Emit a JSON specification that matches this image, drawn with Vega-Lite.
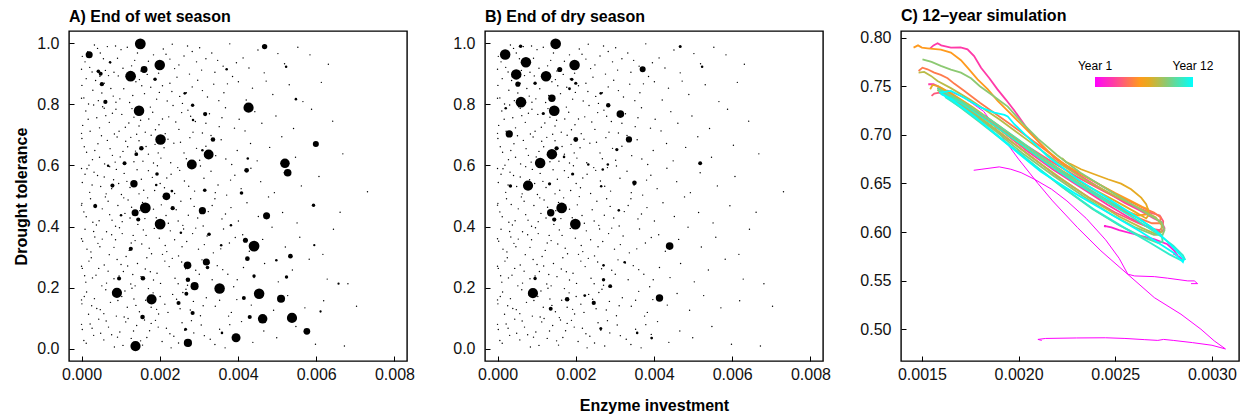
{
  "$schema": "https://vega.github.io/schema/vega-lite/v6.json",
  "background": "white",
  "padding": {"left": 13, "top": 6, "right": 6, "bottom": 4},
  "bounds": "flush",
  "spacing": 78,
  "config": {
    "font": "Liberation Sans",
    "view": {"stroke": "black", "strokeWidth": 1.4},
    "axis": {
      "domain": false, "grid": false, "offset": -5, "tickSize": 5, "tickColor": "black", "tickWidth": 1,
      "labelFont": "Liberation Sans", "labelFontSize": 16, "labelColor": "#111", "labelPadding": 10, "labelFlush": false,
      "titleFont": "Liberation Sans", "titleFontSize": 16, "titleFontWeight": "bold", "titleColor": "black", "titlePadding": 7
    },
    "axisX": {"labelPadding": 5, "titlePadding": 15},
    "title": {"font": "Liberation Sans", "fontSize": 16, "fontWeight": "bold", "anchor": "start", "frame": "group", "color": "black", "offset": 6, "baseline": "alphabetic"}
  },
  "datasets": {
    "background": [
      {"enzyme":0.00002,"drought":0.957},{"enzyme":0.00021,"drought":0.921},{"enzyme":0.00033,"drought":0.994},{"enzyme":0.00048,"drought":0.968},{"enzyme":0.00074,"drought":0.936},{"enzyme":0.00083,"drought":0.905},{"enzyme":0.00101,"drought":0.979},{"enzyme":0.00117,"drought":0.987},{"enzyme":0.00136,"drought":0.944},{"enzyme":0.00152,"drought":0.909},{"enzyme":0.00158,"drought":0.995},{"enzyme":0.00184,"drought":0.962},{"enzyme":0.00193,"drought":0.931},{"enzyme":0.00209,"drought":0.981},{"enzyme":0.00226,"drought":0.948},{"enzyme":0.00238,"drought":0.917},{"enzyme":0.00262,"drought":0.958},{"enzyme":0.00271,"drought":0.991},{"enzyme":0.00294,"drought":0.939},{"enzyme":0.00307,"drought":0.912},{"enzyme":0.00333,"drought":0.968},{"enzyme":0.00348,"drought":0.944},{"enzyme":0.00362,"drought":0.925},{"enzyme":0.00379,"drought":0.998},{"enzyme":0.00413,"drought":0.952},{"enzyme":0.00428,"drought":0.919},{"enzyme":0.00451,"drought":0.978},{"enzyme":0.00467,"drought":0.903},{"enzyme":0.00502,"drought":0.966},{"enzyme":0.00519,"drought":0.933},{"enzyme":0.00553,"drought":0.987},{"enzyme":0.00584,"drought":0.962},{"enzyme":0.00631,"drought":0.931},{"enzyme":0.00092,"drought":0.951},{"enzyme":0.00041,"drought":0.983},{"enzyme":0.00143,"drought":0.968},{"enzyme":0.00197,"drought":0.902},{"enzyme":0.00302,"drought":0.985},{"enzyme":0.00061,"drought":0.911},{"enzyme":0.00009,"drought":0.939},
      {"enzyme":0.00016,"drought":0.972},{"enzyme":0.00056,"drought":0.949},{"enzyme":0.00087,"drought":0.991},{"enzyme":0.00128,"drought":0.926},{"enzyme":0.00171,"drought":0.941},{"enzyme":0.00216,"drought":0.964},{"enzyme":0.00249,"drought":0.929},{"enzyme":0.00283,"drought":0.973},{"enzyme":0.00318,"drought":0.949},{"enzyme":0.00341,"drought":0.905},{"enzyme":0.00396,"drought":0.936},{"enzyme":0.00027,"drought":0.906},{"enzyme":0.00106,"drought":0.918},{"enzyme":0.00232,"drought":0.997},{"enzyme":0.00066,"drought":0.989},
      {"enzyme":0.00012,"drought":0.884},{"enzyme":0.00029,"drought":0.846},{"enzyme":0.00043,"drought":0.812},{"enzyme":0.00058,"drought":0.869},{"enzyme":0.00081,"drought":0.827},{"enzyme":0.00094,"drought":0.893},{"enzyme":0.00108,"drought":0.851},{"enzyme":0.00123,"drought":0.806},{"enzyme":0.00139,"drought":0.874},{"enzyme":0.00161,"drought":0.835},{"enzyme":0.00168,"drought":0.898},{"enzyme":0.00192,"drought":0.817},{"enzyme":0.00207,"drought":0.861},{"enzyme":0.00231,"drought":0.842},{"enzyme":0.00244,"drought":0.889},{"enzyme":0.00258,"drought":0.803},{"enzyme":0.00283,"drought":0.857},{"enzyme":0.00297,"drought":0.879},{"enzyme":0.00322,"drought":0.824},{"enzyme":0.00338,"drought":0.866},{"enzyme":0.00364,"drought":0.838},{"enzyme":0.00386,"drought":0.891},{"enzyme":0.00421,"drought":0.814},{"enzyme":0.00437,"drought":0.853},{"enzyme":0.00472,"drought":0.876},{"enzyme":0.00489,"drought":0.832},{"enzyme":0.00531,"drought":0.864},{"enzyme":0.00566,"drought":0.809},{"enzyme":0.00613,"drought":0.872},{"enzyme":0.00001,"drought":0.862},{"enzyme":0.00018,"drought":0.801},{"enzyme":0.00069,"drought":0.894},{"enzyme":0.00131,"drought":0.829},{"enzyme":0.00177,"drought":0.856},{"enzyme":0.00219,"drought":0.811},{"enzyme":0.00268,"drought":0.838},{"enzyme":0.00373,"drought":0.867},{"enzyme":0.00052,"drought":0.837},{"enzyme":0.00098,"drought":0.818},{"enzyme":0.00148,"drought":0.881},
      {"enzyme":0.00006,"drought":0.821},{"enzyme":0.00036,"drought":0.878},{"enzyme":0.00075,"drought":0.852},{"enzyme":0.00115,"drought":0.897},{"enzyme":0.00154,"drought":0.861},{"enzyme":0.00186,"drought":0.883},{"enzyme":0.00226,"drought":0.869},{"enzyme":0.00251,"drought":0.826},{"enzyme":0.00276,"drought":0.899},{"enzyme":0.00309,"drought":0.845},{"enzyme":0.00351,"drought":0.812},{"enzyme":0.00401,"drought":0.874},{"enzyme":0.00088,"drought":0.807},{"enzyme":0.00199,"drought":0.839},{"enzyme":0.00047,"drought":0.892},
      {"enzyme":0.00003,"drought":0.731},{"enzyme":0.00011,"drought":0.778},{"enzyme":0.00022,"drought":0.712},{"enzyme":0.00039,"drought":0.756},{"enzyme":0.00054,"drought":0.792},{"enzyme":0.00071,"drought":0.741},{"enzyme":0.00084,"drought":0.703},{"enzyme":0.00103,"drought":0.767},{"enzyme":0.00112,"drought":0.725},{"enzyme":0.00129,"drought":0.786},{"enzyme":0.00151,"drought":0.748},{"enzyme":0.00163,"drought":0.709},{"enzyme":0.00182,"drought":0.774},{"enzyme":0.00198,"drought":0.733},{"enzyme":0.00223,"drought":0.759},{"enzyme":0.00234,"drought":0.796},{"enzyme":0.00249,"drought":0.718},{"enzyme":0.00272,"drought":0.781},{"enzyme":0.00291,"drought":0.744},{"enzyme":0.00309,"drought":0.706},{"enzyme":0.00327,"drought":0.769},{"enzyme":0.00352,"drought":0.727},{"enzyme":0.00368,"drought":0.789},{"enzyme":0.00403,"drought":0.751},{"enzyme":0.00418,"drought":0.713},{"enzyme":0.00443,"drought":0.776},{"enzyme":0.00461,"drought":0.738},{"enzyme":0.00497,"drought":0.762},{"enzyme":0.00542,"drought":0.721},{"enzyme":0.00588,"drought":0.784},{"enzyme":0.00642,"drought":0.745},{"enzyme":0.00031,"drought":0.798},{"enzyme":0.00062,"drought":0.763},{"enzyme":0.00088,"drought":0.784},{"enzyme":0.00121,"drought":0.739},{"enzyme":0.00141,"drought":0.702},{"enzyme":0.00172,"drought":0.752},{"enzyme":0.00189,"drought":0.717},{"enzyme":0.00241,"drought":0.742},{"enzyme":0.00279,"drought":0.761},
      {"enzyme":0.00017,"drought":0.751},{"enzyme":0.00046,"drought":0.723},{"enzyme":0.00079,"drought":0.771},{"enzyme":0.00096,"drought":0.712},{"enzyme":0.00134,"drought":0.758},{"enzyme":0.00176,"drought":0.791},{"enzyme":0.00207,"drought":0.752},{"enzyme":0.00256,"drought":0.773},{"enzyme":0.00285,"drought":0.709},{"enzyme":0.00318,"drought":0.738},{"enzyme":0.00359,"drought":0.756},{"enzyme":0.00391,"drought":0.722},{"enzyme":0.00058,"drought":0.787},{"enzyme":0.00147,"drought":0.729},{"enzyme":0.00214,"drought":0.704},
      {"enzyme":0.00001,"drought":0.688},{"enzyme":0.00013,"drought":0.643},{"enzyme":0.00028,"drought":0.619},{"enzyme":0.00042,"drought":0.671},{"enzyme":0.00059,"drought":0.605},{"enzyme":0.00073,"drought":0.655},{"enzyme":0.00091,"drought":0.693},{"enzyme":0.00099,"drought":0.628},{"enzyme":0.00118,"drought":0.661},{"enzyme":0.00134,"drought":0.612},{"enzyme":0.00147,"drought":0.681},{"enzyme":0.00171,"drought":0.637},{"enzyme":0.00178,"drought":0.699},{"enzyme":0.00203,"drought":0.624},{"enzyme":0.00211,"drought":0.658},{"enzyme":0.00228,"drought":0.609},{"enzyme":0.00253,"drought":0.676},{"enzyme":0.00262,"drought":0.641},{"enzyme":0.00277,"drought":0.691},{"enzyme":0.00302,"drought":0.617},{"enzyme":0.00318,"drought":0.663},{"enzyme":0.00343,"drought":0.632},{"enzyme":0.00357,"drought":0.684},{"enzyme":0.00384,"drought":0.603},{"enzyme":0.00398,"drought":0.649},{"enzyme":0.00432,"drought":0.672},{"enzyme":0.00449,"drought":0.615},{"enzyme":0.00481,"drought":0.659},{"enzyme":0.00512,"drought":0.694},{"enzyme":0.00547,"drought":0.627},{"enzyme":0.00603,"drought":0.666},{"enzyme":0.00668,"drought":0.638},{"enzyme":0.00019,"drought":0.601},{"enzyme":0.00051,"drought":0.697},{"enzyme":0.00079,"drought":0.633},{"enzyme":0.00113,"drought":0.679},{"enzyme":0.00138,"drought":0.647},{"enzyme":0.00157,"drought":0.614},{"enzyme":0.00188,"drought":0.669},{"enzyme":0.00221,"drought":0.686},
      {"enzyme":0.00007,"drought":0.661},{"enzyme":0.00034,"drought":0.649},{"enzyme":0.00066,"drought":0.682},{"enzyme":0.00086,"drought":0.611},{"enzyme":0.00126,"drought":0.692},{"enzyme":0.00165,"drought":0.662},{"enzyme":0.00196,"drought":0.641},{"enzyme":0.00236,"drought":0.673},{"enzyme":0.00268,"drought":0.622},{"enzyme":0.00294,"drought":0.656},{"enzyme":0.00331,"drought":0.698},{"enzyme":0.00369,"drought":0.621},{"enzyme":0.00046,"drought":0.627},{"enzyme":0.00106,"drought":0.646},{"enzyme":0.00184,"drought":0.608},
      {"enzyme":0.00002,"drought":0.544},{"enzyme":0.00014,"drought":0.589},{"enzyme":0.00021,"drought":0.512},{"enzyme":0.00041,"drought":0.567},{"enzyme":0.00049,"drought":0.531},{"enzyme":0.00072,"drought":0.596},{"enzyme":0.00082,"drought":0.553},{"enzyme":0.00102,"drought":0.505},{"enzyme":0.00109,"drought":0.574},{"enzyme":0.00133,"drought":0.538},{"enzyme":0.00142,"drought":0.586},{"enzyme":0.00159,"drought":0.519},{"enzyme":0.00181,"drought":0.561},{"enzyme":0.00194,"drought":0.599},{"enzyme":0.00212,"drought":0.527},{"enzyme":0.00229,"drought":0.571},{"enzyme":0.00238,"drought":0.508},{"enzyme":0.00263,"drought":0.549},{"enzyme":0.00281,"drought":0.593},{"enzyme":0.00289,"drought":0.516},{"enzyme":0.00313,"drought":0.558},{"enzyme":0.00331,"drought":0.581},{"enzyme":0.00349,"drought":0.536},{"enzyme":0.00371,"drought":0.503},{"enzyme":0.00392,"drought":0.568},{"enzyme":0.00408,"drought":0.524},{"enzyme":0.00433,"drought":0.591},{"enzyme":0.00458,"drought":0.547},{"enzyme":0.00493,"drought":0.511},{"enzyme":0.00518,"drought":0.576},{"enzyme":0.00562,"drought":0.533},{"enzyme":0.00607,"drought":0.564},{"enzyme":0.00731,"drought":0.514},{"enzyme":0.00032,"drought":0.578},{"enzyme":0.00063,"drought":0.507},{"enzyme":0.00089,"drought":0.587},{"enzyme":0.00124,"drought":0.528},{"enzyme":0.00153,"drought":0.555},{"enzyme":0.00201,"drought":0.541},{"enzyme":0.00251,"drought":0.584},
      {"enzyme":0.00009,"drought":0.571},{"enzyme":0.00027,"drought":0.536},{"enzyme":0.00058,"drought":0.562},{"enzyme":0.00077,"drought":0.524},{"enzyme":0.00116,"drought":0.548},{"enzyme":0.00147,"drought":0.507},{"enzyme":0.00171,"drought":0.583},{"enzyme":0.00218,"drought":0.559},{"enzyme":0.00246,"drought":0.593},{"enzyme":0.00274,"drought":0.532},{"enzyme":0.00304,"drought":0.598},{"enzyme":0.00342,"drought":0.511},{"enzyme":0.00381,"drought":0.552},{"enzyme":0.00095,"drought":0.541},{"enzyme":0.00187,"drought":0.518},
      {"enzyme":0.00001,"drought":0.476},{"enzyme":0.00012,"drought":0.432},{"enzyme":0.00023,"drought":0.491},{"enzyme":0.00029,"drought":0.414},{"enzyme":0.00053,"drought":0.458},{"enzyme":0.00061,"drought":0.497},{"enzyme":0.00078,"drought":0.421},{"enzyme":0.00093,"drought":0.469},{"enzyme":0.00111,"drought":0.443},{"enzyme":0.00119,"drought":0.487},{"enzyme":0.00144,"drought":0.407},{"enzyme":0.00149,"drought":0.452},{"enzyme":0.00169,"drought":0.494},{"enzyme":0.00191,"drought":0.429},{"enzyme":0.00204,"drought":0.471},{"enzyme":0.00222,"drought":0.411},{"enzyme":0.00242,"drought":0.455},{"enzyme":0.00254,"drought":0.483},{"enzyme":0.00273,"drought":0.437},{"enzyme":0.00288,"drought":0.466},{"enzyme":0.00311,"drought":0.402},{"enzyme":0.00324,"drought":0.449},{"enzyme":0.00341,"drought":0.491},{"enzyme":0.00359,"drought":0.425},{"enzyme":0.00382,"drought":0.462},{"enzyme":0.00401,"drought":0.418},{"enzyme":0.00423,"drought":0.478},{"enzyme":0.00452,"drought":0.433},{"enzyme":0.00478,"drought":0.497},{"enzyme":0.00514,"drought":0.446},{"enzyme":0.00551,"drought":0.412},{"enzyme":0.00594,"drought":0.468},{"enzyme":0.00661,"drought":0.447},{"enzyme":0.00038,"drought":0.405},{"enzyme":0.00068,"drought":0.483},{"enzyme":0.00104,"drought":0.416},{"enzyme":0.00128,"drought":0.463},{"enzyme":0.00162,"drought":0.426},{"enzyme":0.00209,"drought":0.498},{"enzyme":0.00259,"drought":0.404},
      {"enzyme":0.00006,"drought":0.448},{"enzyme":0.00035,"drought":0.472},{"enzyme":0.00072,"drought":0.439},{"enzyme":0.00087,"drought":0.401},{"enzyme":0.00124,"drought":0.428},{"enzyme":0.00156,"drought":0.479},{"enzyme":0.00184,"drought":0.457},{"enzyme":0.00216,"drought":0.436},{"enzyme":0.00247,"drought":0.418},{"enzyme":0.00279,"drought":0.491},{"enzyme":0.00297,"drought":0.428},{"enzyme":0.00334,"drought":0.469},{"enzyme":0.00368,"drought":0.441},{"enzyme":0.00045,"drought":0.419},{"enzyme":0.00108,"drought":0.494},
      {"enzyme":0.00003,"drought":0.352},{"enzyme":0.00009,"drought":0.391},{"enzyme":0.00024,"drought":0.317},{"enzyme":0.00034,"drought":0.366},{"enzyme":0.00047,"drought":0.334},{"enzyme":0.00064,"drought":0.383},{"enzyme":0.00071,"drought":0.308},{"enzyme":0.00087,"drought":0.357},{"enzyme":0.00097,"drought":0.396},{"enzyme":0.00122,"drought":0.322},{"enzyme":0.00132,"drought":0.371},{"enzyme":0.00154,"drought":0.343},{"enzyme":0.00158,"drought":0.389},{"enzyme":0.00179,"drought":0.311},{"enzyme":0.00199,"drought":0.362},{"enzyme":0.00214,"drought":0.338},{"enzyme":0.00227,"drought":0.386},{"enzyme":0.00248,"drought":0.304},{"enzyme":0.00269,"drought":0.351},{"enzyme":0.00284,"drought":0.377},{"enzyme":0.00299,"drought":0.326},{"enzyme":0.00321,"drought":0.369},{"enzyme":0.00337,"drought":0.314},{"enzyme":0.00363,"drought":0.392},{"enzyme":0.00378,"drought":0.346},{"enzyme":0.00412,"drought":0.373},{"enzyme":0.00429,"drought":0.319},{"enzyme":0.00463,"drought":0.358},{"enzyme":0.00487,"drought":0.398},{"enzyme":0.00521,"drought":0.333},{"enzyme":0.00558,"drought":0.365},{"enzyme":0.00617,"drought":0.309},{"enzyme":0.00644,"drought":0.391},{"enzyme":0.00042,"drought":0.345},{"enzyme":0.00077,"drought":0.373},{"enzyme":0.00114,"drought":0.302},{"enzyme":0.00137,"drought":0.354},{"enzyme":0.00173,"drought":0.329},{"enzyme":0.00218,"drought":0.318},{"enzyme":0.00261,"drought":0.392},
      {"enzyme":0.00014,"drought":0.326},{"enzyme":0.00053,"drought":0.359},{"enzyme":0.00083,"drought":0.332},{"enzyme":0.00104,"drought":0.377},{"enzyme":0.00127,"drought":0.346},{"enzyme":0.00165,"drought":0.371},{"enzyme":0.00186,"drought":0.394},{"enzyme":0.00207,"drought":0.309},{"enzyme":0.00238,"drought":0.357},{"enzyme":0.00257,"drought":0.334},{"enzyme":0.00292,"drought":0.395},{"enzyme":0.00314,"drought":0.341},{"enzyme":0.00356,"drought":0.327},{"enzyme":0.00393,"drought":0.364},{"enzyme":0.00031,"drought":0.384},
      {"enzyme":0.00002,"drought":0.263},{"enzyme":0.00011,"drought":0.218},{"enzyme":0.00019,"drought":0.287},{"enzyme":0.00037,"drought":0.241},{"enzyme":0.00052,"drought":0.206},{"enzyme":0.00058,"drought":0.274},{"enzyme":0.00083,"drought":0.229},{"enzyme":0.00091,"drought":0.292},{"enzyme":0.00107,"drought":0.253},{"enzyme":0.00126,"drought":0.212},{"enzyme":0.00143,"drought":0.279},{"enzyme":0.00152,"drought":0.236},{"enzyme":0.00167,"drought":0.298},{"enzyme":0.00193,"drought":0.247},{"enzyme":0.00202,"drought":0.214},{"enzyme":0.00224,"drought":0.269},{"enzyme":0.00239,"drought":0.231},{"enzyme":0.00256,"drought":0.284},{"enzyme":0.00271,"drought":0.208},{"enzyme":0.00292,"drought":0.257},{"enzyme":0.00308,"drought":0.291},{"enzyme":0.00334,"drought":0.226},{"enzyme":0.00347,"drought":0.272},{"enzyme":0.00374,"drought":0.244},{"enzyme":0.00389,"drought":0.203},{"enzyme":0.00414,"drought":0.266},{"enzyme":0.00441,"drought":0.233},{"enzyme":0.00468,"drought":0.279},{"enzyme":0.00503,"drought":0.219},{"enzyme":0.00539,"drought":0.258},{"enzyme":0.00582,"drought":0.293},{"enzyme":0.00628,"drought":0.228},{"enzyme":0.00681,"drought":0.213},{"enzyme":0.00028,"drought":0.232},{"enzyme":0.00068,"drought":0.254},{"enzyme":0.00101,"drought":0.276},{"enzyme":0.00131,"drought":0.243},{"enzyme":0.00163,"drought":0.261},{"enzyme":0.00184,"drought":0.225},{"enzyme":0.00232,"drought":0.296},
      {"enzyme":0.00008,"drought":0.239},{"enzyme":0.00044,"drought":0.263},{"enzyme":0.00064,"drought":0.215},{"enzyme":0.00096,"drought":0.238},{"enzyme":0.00118,"drought":0.271},{"enzyme":0.00137,"drought":0.206},{"enzyme":0.00176,"drought":0.252},{"enzyme":0.00213,"drought":0.287},{"enzyme":0.00247,"drought":0.213},{"enzyme":0.00266,"drought":0.262},{"enzyme":0.00301,"drought":0.244},{"enzyme":0.00327,"drought":0.281},{"enzyme":0.00361,"drought":0.259},{"enzyme":0.00398,"drought":0.226},{"enzyme":0.00025,"drought":0.298},
      {"enzyme":0.00001,"drought":0.147},{"enzyme":0.00013,"drought":0.186},{"enzyme":0.00018,"drought":0.113},{"enzyme":0.00033,"drought":0.164},{"enzyme":0.00048,"drought":0.128},{"enzyme":0.00062,"drought":0.193},{"enzyme":0.00074,"drought":0.152},{"enzyme":0.00089,"drought":0.107},{"enzyme":0.00103,"drought":0.171},{"enzyme":0.00117,"drought":0.136},{"enzyme":0.00129,"drought":0.198},{"enzyme":0.00148,"drought":0.121},{"enzyme":0.00164,"drought":0.159},{"enzyme":0.00183,"drought":0.183},{"enzyme":0.00197,"drought":0.114},{"enzyme":0.00213,"drought":0.146},{"enzyme":0.00233,"drought":0.178},{"enzyme":0.00252,"drought":0.131},{"enzyme":0.00267,"drought":0.195},{"enzyme":0.00286,"drought":0.155},{"enzyme":0.00304,"drought":0.108},{"enzyme":0.00319,"drought":0.167},{"enzyme":0.00342,"drought":0.139},{"enzyme":0.00361,"drought":0.188},{"enzyme":0.00383,"drought":0.119},{"enzyme":0.00397,"drought":0.161},{"enzyme":0.00434,"drought":0.143},{"enzyme":0.00459,"drought":0.181},{"enzyme":0.00491,"drought":0.126},{"enzyme":0.00527,"drought":0.174},{"enzyme":0.00571,"drought":0.134},{"enzyme":0.00619,"drought":0.157},{"enzyme":0.00703,"drought":0.139},{"enzyme":0.00039,"drought":0.132},{"enzyme":0.00081,"drought":0.176},{"enzyme":0.00109,"drought":0.104},{"enzyme":0.00139,"drought":0.142},{"enzyme":0.00171,"drought":0.197},{"enzyme":0.00192,"drought":0.129},{"enzyme":0.00243,"drought":0.162},
      {"enzyme":0.00007,"drought":0.171},{"enzyme":0.00026,"drought":0.141},{"enzyme":0.00057,"drought":0.115},{"enzyme":0.00093,"drought":0.158},{"enzyme":0.00111,"drought":0.189},{"enzyme":0.00134,"drought":0.163},{"enzyme":0.00158,"drought":0.102},{"enzyme":0.00178,"drought":0.136},{"enzyme":0.00221,"drought":0.119},{"enzyme":0.00259,"drought":0.184},{"enzyme":0.00278,"drought":0.127},{"enzyme":0.00311,"drought":0.141},{"enzyme":0.00353,"drought":0.159},{"enzyme":0.00376,"drought":0.107},{"enzyme":0.00201,"drought":0.171},
      {"enzyme":0.00002,"drought":0.063},{"enzyme":0.00012,"drought":0.018},{"enzyme":0.00022,"drought":0.081},{"enzyme":0.00031,"drought":0.044},{"enzyme":0.00044,"drought":0.097},{"enzyme":0.00057,"drought":0.029},{"enzyme":0.00069,"drought":0.071},{"enzyme":0.00084,"drought":0.006},{"enzyme":0.00098,"drought":0.055},{"enzyme":0.00113,"drought":0.088},{"enzyme":0.00127,"drought":0.034},{"enzyme":0.00141,"drought":0.076},{"enzyme":0.00156,"drought":0.012},{"enzyme":0.00174,"drought":0.059},{"enzyme":0.00189,"drought":0.093},{"enzyme":0.00206,"drought":0.024},{"enzyme":0.00217,"drought":0.067},{"enzyme":0.00236,"drought":0.041},{"enzyme":0.00257,"drought":0.085},{"enzyme":0.00274,"drought":0.009},{"enzyme":0.00287,"drought":0.052},{"enzyme":0.00306,"drought":0.078},{"enzyme":0.00329,"drought":0.031},{"enzyme":0.00353,"drought":0.064},{"enzyme":0.00367,"drought":0.003},{"enzyme":0.00393,"drought":0.047},{"enzyme":0.00409,"drought":0.089},{"enzyme":0.00438,"drought":0.021},{"enzyme":0.00466,"drought":0.058},{"enzyme":0.00499,"drought":0.036},{"enzyme":0.00548,"drought":0.073},{"enzyme":0.00598,"drought":0.015},{"enzyme":0.00672,"drought":0.009},{"enzyme":0.00049,"drought":0.051},{"enzyme":0.00092,"drought":0.038},{"enzyme":0.00119,"drought":0.099},{"enzyme":0.00151,"drought":0.026},{"enzyme":0.00178,"drought":0.083},{"enzyme":0.00229,"drought":0.003},{"enzyme":0.00264,"drought":0.061},
      {"enzyme":0.00006,"drought":0.027},{"enzyme":0.00027,"drought":0.067},{"enzyme":0.00063,"drought":0.091},{"enzyme":0.00077,"drought":0.046},{"enzyme":0.00106,"drought":0.011},{"enzyme":0.00133,"drought":0.058},{"enzyme":0.00167,"drought":0.037},{"enzyme":0.00196,"drought":0.071},{"enzyme":0.00226,"drought":0.049},{"enzyme":0.00248,"drought":0.019},{"enzyme":0.00281,"drought":0.092},{"enzyme":0.00314,"drought":0.043},{"enzyme":0.00341,"drought":0.014},{"enzyme":0.00379,"drought":0.079},{"enzyme":0.00161,"drought":0.094},
      {"enzyme":0.0,"drought":0.915},{"enzyme":0.0,"drought":0.82},{"enzyme":0.0,"drought":0.705},{"enzyme":0.0,"drought":0.59},{"enzyme":0.0,"drought":0.47},{"enzyme":0.0,"drought":0.36},{"enzyme":0.0,"drought":0.27},{"enzyme":0.0,"drought":0.16},{"enzyme":0.0,"drought":0.08}
    ],
    "species": [
      {"season":"wet","enzyme":0.001503,"drought":0.998,"abundance":90},
      {"season":"wet","enzyme":0.000196,"drought":0.962,"abundance":38},
      {"season":"wet","enzyme":0.00468,"drought":0.989,"abundance":22},
      {"season":"wet","enzyme":0.002,"drought":0.929,"abundance":85},
      {"season":"wet","enzyme":0.0016,"drought":0.914,"abundance":36},
      {"season":"wet","enzyme":0.001255,"drought":0.892,"abundance":88},
      {"season":"wet","enzyme":0.00043,"drought":0.908,"abundance":10},
      {"season":"wet","enzyme":0.00049,"drought":0.9,"abundance":12},
      {"season":"wet","enzyme":0.00052,"drought":0.866,"abundance":14},
      {"season":"wet","enzyme":0.00061,"drought":0.808,"abundance":14},
      {"season":"wet","enzyme":0.00147,"drought":0.779,"abundance":85},
      {"season":"wet","enzyme":0.00427,"drought":0.789,"abundance":80},
      {"season":"wet","enzyme":0.00316,"drought":0.768,"abundance":14},
      {"season":"wet","enzyme":0.00202,"drought":0.685,"abundance":85},
      {"season":"wet","enzyme":0.00336,"drought":0.685,"abundance":16},
      {"season":"wet","enzyme":0.00599,"drought":0.67,"abundance":28},
      {"season":"wet","enzyme":0.00153,"drought":0.656,"abundance":16},
      {"season":"wet","enzyme":0.0014,"drought":0.637,"abundance":11},
      {"season":"wet","enzyme":0.00325,"drought":0.636,"abundance":75},
      {"season":"wet","enzyme":0.00282,"drought":0.603,"abundance":75},
      {"season":"wet","enzyme":0.0052,"drought":0.607,"abundance":70},
      {"season":"wet","enzyme":0.00527,"drought":0.576,"abundance":45},
      {"season":"wet","enzyme":0.00422,"drought":0.584,"abundance":17},
      {"season":"wet","enzyme":0.0011,"drought":0.607,"abundance":12},
      {"season":"wet","enzyme":0.00193,"drought":0.572,"abundance":10},
      {"season":"wet","enzyme":0.00134,"drought":0.54,"abundance":42},
      {"season":"wet","enzyme":0.00079,"drought":0.534,"abundance":13},
      {"season":"wet","enzyme":0.00217,"drought":0.499,"abundance":45},
      {"season":"wet","enzyme":0.00315,"drought":0.519,"abundance":10},
      {"season":"wet","enzyme":0.00409,"drought":0.51,"abundance":10},
      {"season":"wet","enzyme":0.00035,"drought":0.467,"abundance":13},
      {"season":"wet","enzyme":0.00163,"drought":0.461,"abundance":90},
      {"season":"wet","enzyme":0.00137,"drought":0.445,"abundance":38},
      {"season":"wet","enzyme":0.00233,"drought":0.46,"abundance":14},
      {"season":"wet","enzyme":0.00309,"drought":0.452,"abundance":40},
      {"season":"wet","enzyme":0.00593,"drought":0.47,"abundance":9},
      {"season":"wet","enzyme":0.00145,"drought":0.423,"abundance":13},
      {"season":"wet","enzyme":0.00201,"drought":0.408,"abundance":90},
      {"season":"wet","enzyme":0.00473,"drought":0.435,"abundance":38},
      {"season":"wet","enzyme":0.00419,"drought":0.355,"abundance":20},
      {"season":"wet","enzyme":0.00441,"drought":0.336,"abundance":90},
      {"season":"wet","enzyme":0.00326,"drought":0.375,"abundance":10},
      {"season":"wet","enzyme":0.00126,"drought":0.327,"abundance":13},
      {"season":"wet","enzyme":0.00271,"drought":0.273,"abundance":45},
      {"season":"wet","enzyme":0.00319,"drought":0.284,"abundance":38},
      {"season":"wet","enzyme":0.00322,"drought":0.266,"abundance":10},
      {"season":"wet","enzyme":0.00424,"drought":0.295,"abundance":17},
      {"season":"wet","enzyme":0.00534,"drought":0.303,"abundance":17},
      {"season":"wet","enzyme":0.00096,"drought":0.23,"abundance":13},
      {"season":"wet","enzyme":0.00157,"drought":0.231,"abundance":16},
      {"season":"wet","enzyme":0.00272,"drought":0.226,"abundance":16},
      {"season":"wet","enzyme":0.000905,"drought":0.183,"abundance":80},
      {"season":"wet","enzyme":0.00179,"drought":0.162,"abundance":80},
      {"season":"wet","enzyme":0.00289,"drought":0.205,"abundance":50},
      {"season":"wet","enzyme":0.00353,"drought":0.197,"abundance":85},
      {"season":"wet","enzyme":0.00454,"drought":0.18,"abundance":85},
      {"season":"wet","enzyme":0.0051,"drought":0.164,"abundance":50},
      {"season":"wet","enzyme":0.00268,"drought":0.18,"abundance":12},
      {"season":"wet","enzyme":0.00415,"drought":0.166,"abundance":12},
      {"season":"wet","enzyme":0.00441,"drought":0.238,"abundance":9},
      {"season":"wet","enzyme":0.00524,"drought":0.235,"abundance":9},
      {"season":"wet","enzyme":0.00248,"drought":0.15,"abundance":13},
      {"season":"wet","enzyme":0.00284,"drought":0.117,"abundance":13},
      {"season":"wet","enzyme":0.00156,"drought":0.104,"abundance":16},
      {"season":"wet","enzyme":0.0043,"drought":0.104,"abundance":13},
      {"season":"wet","enzyme":0.00463,"drought":0.098,"abundance":70},
      {"season":"wet","enzyme":0.00538,"drought":0.101,"abundance":80},
      {"season":"wet","enzyme":0.00576,"drought":0.057,"abundance":35},
      {"season":"wet","enzyme":0.00395,"drought":0.036,"abundance":62},
      {"season":"wet","enzyme":0.00272,"drought":0.019,"abundance":52},
      {"season":"wet","enzyme":0.00138,"drought":0.009,"abundance":80},
      {"season":"wet","enzyme":0.00266,"drought":0.064,"abundance":7},
      {"season":"wet","enzyme":0.00188,"drought":0.882,"abundance":9},
      {"season":"wet","enzyme":0.00523,"drought":0.923,"abundance":5},
      {"season":"wet","enzyme":0.00548,"drought":0.817,"abundance":5},
      {"season":"wet","enzyme":0.00284,"drought":0.797,"abundance":9},
      {"season":"wet","enzyme":0.00264,"drought":0.836,"abundance":6},
      {"season":"wet","enzyme":0.00285,"drought":0.749,"abundance":5},
      {"season":"wet","enzyme":0.00309,"drought":0.65,"abundance":5},
      {"season":"wet","enzyme":0.00425,"drought":0.623,"abundance":5},
      {"season":"wet","enzyme":0.00191,"drought":0.536,"abundance":5},
      {"season":"wet","enzyme":0.00231,"drought":0.516,"abundance":6},
      {"season":"wet","enzyme":0.00254,"drought":0.38,"abundance":5},
      {"season":"wet","enzyme":0.00357,"drought":0.339,"abundance":5},
      {"season":"wet","enzyme":0.00382,"drought":0.404,"abundance":5},
      {"season":"wet","enzyme":0.00498,"drought":0.29,"abundance":5},
      {"season":"wet","enzyme":0.00595,"drought":0.339,"abundance":4},
      {"season":"wet","enzyme":0.00611,"drought":0.122,"abundance":4},
      {"season":"wet","enzyme":0.00657,"drought":0.213,"abundance":4},
      {"season":"wet","enzyme":0.00359,"drought":0.052,"abundance":5},
      {"season":"wet","enzyme":0.00073,"drought":0.938,"abundance":5},
      {"season":"wet","enzyme":0.00371,"drought":0.915,"abundance":5},
      {"season":"wet","enzyme":0.00068,"drought":0.599,"abundance":5},
      {"season":"wet","enzyme":0.00101,"drought":0.437,"abundance":5},
      {"season":"dry","enzyme":0.001486,"drought":0.998,"abundance":88},
      {"season":"dry","enzyme":0.000196,"drought":0.963,"abundance":85},
      {"season":"dry","enzyme":0.000726,"drought":0.938,"abundance":85},
      {"season":"dry","enzyme":0.00197,"drought":0.929,"abundance":85},
      {"season":"dry","enzyme":0.00059,"drought":0.99,"abundance":10},
      {"season":"dry","enzyme":0.000478,"drought":0.898,"abundance":85},
      {"season":"dry","enzyme":0.00124,"drought":0.892,"abundance":85},
      {"season":"dry","enzyme":0.00159,"drought":0.914,"abundance":20},
      {"season":"dry","enzyme":0.00052,"drought":0.866,"abundance":20},
      {"season":"dry","enzyme":0.0006,"drought":0.807,"abundance":88},
      {"season":"dry","enzyme":0.00139,"drought":0.82,"abundance":42},
      {"season":"dry","enzyme":0.00145,"drought":0.779,"abundance":88},
      {"season":"dry","enzyme":0.00283,"drought":0.797,"abundance":15},
      {"season":"dry","enzyme":0.00314,"drought":0.768,"abundance":45},
      {"season":"dry","enzyme":0.00371,"drought":0.915,"abundance":28},
      {"season":"dry","enzyme":0.00467,"drought":0.989,"abundance":7},
      {"season":"dry","enzyme":0.00096,"drought":0.869,"abundance":9},
      {"season":"dry","enzyme":0.002,"drought":0.869,"abundance":8},
      {"season":"dry","enzyme":0.00184,"drought":0.851,"abundance":6},
      {"season":"dry","enzyme":0.0003,"drought":0.703,"abundance":40},
      {"season":"dry","enzyme":0.002,"drought":0.685,"abundance":18},
      {"season":"dry","enzyme":0.00336,"drought":0.685,"abundance":30},
      {"season":"dry","enzyme":0.00151,"drought":0.656,"abundance":14},
      {"season":"dry","enzyme":0.00139,"drought":0.637,"abundance":85},
      {"season":"dry","enzyme":0.00109,"drought":0.608,"abundance":85},
      {"season":"dry","enzyme":0.00078,"drought":0.534,"abundance":80},
      {"season":"dry","enzyme":0.00033,"drought":0.533,"abundance":9},
      {"season":"dry","enzyme":0.00164,"drought":0.461,"abundance":88},
      {"season":"dry","enzyme":0.00136,"drought":0.445,"abundance":42},
      {"season":"dry","enzyme":0.00145,"drought":0.423,"abundance":14},
      {"season":"dry","enzyme":0.00199,"drought":0.408,"abundance":88},
      {"season":"dry","enzyme":0.0044,"drought":0.336,"abundance":45},
      {"season":"dry","enzyme":0.0035,"drought":0.543,"abundance":16},
      {"season":"dry","enzyme":0.00518,"drought":0.607,"abundance":12},
      {"season":"dry","enzyme":0.000905,"drought":0.182,"abundance":80},
      {"season":"dry","enzyme":0.00414,"drought":0.166,"abundance":42},
      {"season":"dry","enzyme":0.00178,"drought":0.162,"abundance":16},
      {"season":"dry","enzyme":0.00246,"drought":0.15,"abundance":14},
      {"season":"dry","enzyme":0.00288,"drought":0.205,"abundance":12},
      {"season":"dry","enzyme":0.00271,"drought":0.226,"abundance":9},
      {"season":"dry","enzyme":0.00136,"drought":0.131,"abundance":12},
      {"season":"dry","enzyme":0.00096,"drought":0.23,"abundance":9},
      {"season":"dry","enzyme":0.00223,"drought":0.174,"abundance":6},
      {"season":"dry","enzyme":0.00264,"drought":0.066,"abundance":7},
      {"season":"dry","enzyme":0.00357,"drought":0.052,"abundance":5},
      {"season":"dry","enzyme":0.00394,"drought":0.035,"abundance":6},
      {"season":"dry","enzyme":0.00523,"drought":0.923,"abundance":5},
      {"season":"dry","enzyme":0.00264,"drought":0.836,"abundance":6},
      {"season":"dry","enzyme":0.00117,"drought":0.77,"abundance":8},
      {"season":"dry","enzyme":0.00305,"drought":0.652,"abundance":8},
      {"season":"dry","enzyme":0.00232,"drought":0.603,"abundance":5},
      {"season":"dry","enzyme":0.00269,"drought":0.587,"abundance":5},
      {"season":"dry","enzyme":0.00282,"drought":0.603,"abundance":5},
      {"season":"dry","enzyme":0.00192,"drought":0.572,"abundance":8},
      {"season":"dry","enzyme":0.00133,"drought":0.54,"abundance":8},
      {"season":"dry","enzyme":0.00265,"drought":0.532,"abundance":5},
      {"season":"dry","enzyme":0.0031,"drought":0.453,"abundance":5},
      {"season":"dry","enzyme":0.00271,"drought":0.273,"abundance":5},
      {"season":"dry","enzyme":0.00325,"drought":0.283,"abundance":5},
      {"season":"dry","enzyme":0.0017,"drought":0.628,"abundance":5},
      {"season":"dry","enzyme":0.00021,"drought":0.787,"abundance":5},
      {"season":"dry","enzyme":0.0019,"drought":0.882,"abundance":8}
    ],
    "trajectory": [
      {"year":1,"track":"a","enzyme":0.00212,"drought":0.4885},{"year":1,"track":"a","enzyme":0.0021,"drought":0.4895},{"year":1,"track":"a","enzyme":0.00214,"drought":0.4905},{"year":1,"track":"a","enzyme":0.0023,"drought":0.491},{"year":1,"track":"a","enzyme":0.00245,"drought":0.4912},{"year":1,"track":"a","enzyme":0.00255,"drought":0.4905},{"year":1,"track":"a","enzyme":0.00265,"drought":0.4893},{"year":1,"track":"a","enzyme":0.00272,"drought":0.4885},{"year":1,"track":"a","enzyme":0.00275,"drought":0.4895},{"year":1,"track":"a","enzyme":0.0028,"drought":0.4885},{"year":1,"track":"a","enzyme":0.0029,"drought":0.4862},{"year":1,"track":"a","enzyme":0.003,"drought":0.4835},{"year":1,"track":"a","enzyme":0.00307,"drought":0.4797},{"year":1,"track":"a","enzyme":0.003012,"drought":0.488},{"year":1,"track":"a","enzyme":0.002943,"drought":0.5},{"year":1,"track":"a","enzyme":0.00284,"drought":0.5154},{"year":1,"track":"a","enzyme":0.002702,"drought":0.5325},{"year":1,"track":"a","enzyme":0.002564,"drought":0.5566},{"year":1,"track":"a","enzyme":0.002426,"drought":0.5806},{"year":1,"track":"a","enzyme":0.002305,"drought":0.6045},{"year":1,"track":"a","enzyme":0.002176,"drought":0.632},{"year":1,"track":"a","enzyme":0.0021,"drought":0.65},{"year":1,"track":"a","enzyme":0.002,"drought":0.675},{"year":1,"track":"a","enzyme":0.0019,"drought":0.702},{"year":1,"track":"a","enzyme":0.00182,"drought":0.724},{"year":1,"track":"a","enzyme":0.00172,"drought":0.738},{"year":1,"track":"a","enzyme":0.00163,"drought":0.746},
      {"year":1,"track":"b","enzyme":0.001768,"drought":0.6635},{"year":1,"track":"b","enzyme":0.001806,"drought":0.6645},{"year":1,"track":"b","enzyme":0.0019,"drought":0.667},{"year":1,"track":"b","enzyme":0.00196,"drought":0.6646},{"year":1,"track":"b","enzyme":0.002013,"drought":0.6611},{"year":1,"track":"b","enzyme":0.002082,"drought":0.6543},{"year":1,"track":"b","enzyme":0.002171,"drought":0.644},{"year":1,"track":"b","enzyme":0.00225,"drought":0.632},{"year":1,"track":"b","enzyme":0.00235,"drought":0.614},{"year":1,"track":"b","enzyme":0.00245,"drought":0.592},{"year":1,"track":"b","enzyme":0.00252,"drought":0.573},{"year":1,"track":"b","enzyme":0.002565,"drought":0.5566},{"year":1,"track":"b","enzyme":0.0026,"drought":0.5548},{"year":1,"track":"b","enzyme":0.002702,"drought":0.5541},{"year":1,"track":"b","enzyme":0.002771,"drought":0.5525},{"year":1,"track":"b","enzyme":0.002875,"drought":0.5497},{"year":1,"track":"b","enzyme":0.002909,"drought":0.5497},{"year":1,"track":"b","enzyme":0.002926,"drought":0.5469},{"year":1,"track":"b","enzyme":0.002892,"drought":0.5469},
      {"year":2,"track":"a","enzyme":0.00245,"drought":0.6055},{"year":2,"track":"a","enzyme":0.002443,"drought":0.6063},{"year":2,"track":"a","enzyme":0.00248,"drought":0.6048},{"year":2,"track":"a","enzyme":0.00252,"drought":0.602},{"year":2,"track":"a","enzyme":0.0026,"drought":0.5977},{"year":2,"track":"a","enzyme":0.0027,"drought":0.5926},{"year":2,"track":"a","enzyme":0.00277,"drought":0.5874},{"year":2,"track":"a","enzyme":0.002806,"drought":0.5806},{"year":2,"track":"a","enzyme":0.002832,"drought":0.573},{"year":2,"track":"a","enzyme":0.002849,"drought":0.571},{"year":2,"track":"a","enzyme":0.00283,"drought":0.5745},{"year":2,"track":"a","enzyme":0.0028,"drought":0.578},
      {"year":3,"track":"a","enzyme":0.001543,"drought":0.789},{"year":3,"track":"a","enzyme":0.00156,"drought":0.792},{"year":3,"track":"a","enzyme":0.001581,"drought":0.7942},{"year":3,"track":"a","enzyme":0.0016,"drought":0.792},{"year":3,"track":"a","enzyme":0.00165,"drought":0.7897},{"year":3,"track":"a","enzyme":0.0017,"drought":0.79},{"year":3,"track":"a","enzyme":0.001736,"drought":0.788},{"year":3,"track":"a","enzyme":0.00177,"drought":0.781},{"year":3,"track":"a","enzyme":0.001806,"drought":0.769},{"year":3,"track":"a","enzyme":0.00185,"drought":0.758},{"year":3,"track":"a","enzyme":0.00189,"drought":0.747},{"year":3,"track":"a","enzyme":0.001935,"drought":0.736},{"year":3,"track":"a","enzyme":0.001978,"drought":0.725},{"year":3,"track":"a","enzyme":0.002047,"drought":0.7057},{"year":3,"track":"a","enzyme":0.002116,"drought":0.69},{"year":3,"track":"a","enzyme":0.002185,"drought":0.6766},{"year":3,"track":"a","enzyme":0.00225,"drought":0.667},{"year":3,"track":"a","enzyme":0.00235,"drought":0.654},{"year":3,"track":"a","enzyme":0.00245,"drought":0.642},{"year":3,"track":"a","enzyme":0.00255,"drought":0.63},{"year":3,"track":"a","enzyme":0.00263,"drought":0.622},{"year":3,"track":"a","enzyme":0.0027,"drought":0.614},{"year":3,"track":"a","enzyme":0.00274,"drought":0.61},{"year":3,"track":"a","enzyme":0.002755,"drought":0.604},{"year":3,"track":"a","enzyme":0.00274,"drought":0.6},{"year":3,"track":"a","enzyme":0.00268,"drought":0.604},{"year":3,"track":"a","enzyme":0.00258,"drought":0.614},{"year":3,"track":"a","enzyme":0.00246,"drought":0.628},{"year":3,"track":"a","enzyme":0.00232,"drought":0.646},{"year":3,"track":"a","enzyme":0.00218,"drought":0.664},{"year":3,"track":"a","enzyme":0.00204,"drought":0.684},{"year":3,"track":"a","enzyme":0.0019,"drought":0.706},{"year":3,"track":"a","enzyme":0.00178,"drought":0.724},{"year":3,"track":"a","enzyme":0.00168,"drought":0.738},{"year":3,"track":"a","enzyme":0.0016,"drought":0.748},{"year":3,"track":"a","enzyme":0.00156,"drought":0.752},{"year":3,"track":"a","enzyme":0.001533,"drought":0.752},
      {"year":4,"track":"a","enzyme":0.00155,"drought":0.74},{"year":4,"track":"a","enzyme":0.001564,"drought":0.7424},{"year":4,"track":"a","enzyme":0.00159,"drought":0.7434},{"year":4,"track":"a","enzyme":0.0017,"drought":0.732},{"year":4,"track":"a","enzyme":0.00185,"drought":0.714},{"year":4,"track":"a","enzyme":0.002,"drought":0.694},{"year":4,"track":"a","enzyme":0.00215,"drought":0.675},{"year":4,"track":"a","enzyme":0.0023,"drought":0.657},{"year":4,"track":"a","enzyme":0.00245,"drought":0.641},{"year":4,"track":"a","enzyme":0.00258,"drought":0.628},{"year":4,"track":"a","enzyme":0.00268,"drought":0.62},{"year":4,"track":"a","enzyme":0.00273,"drought":0.617},{"year":4,"track":"a","enzyme":0.002748,"drought":0.611},{"year":4,"track":"a","enzyme":0.002745,"drought":0.605},{"year":4,"track":"a","enzyme":0.00273,"drought":0.602},{"year":4,"track":"a","enzyme":0.0027,"drought":0.603},{"year":4,"track":"a","enzyme":0.00262,"drought":0.609},{"year":4,"track":"a","enzyme":0.0025,"drought":0.62},{"year":4,"track":"a","enzyme":0.00236,"drought":0.636},{"year":4,"track":"a","enzyme":0.0022,"drought":0.657},{"year":4,"track":"a","enzyme":0.00205,"drought":0.68},{"year":4,"track":"a","enzyme":0.0019,"drought":0.702},{"year":4,"track":"a","enzyme":0.00178,"drought":0.72},{"year":4,"track":"a","enzyme":0.00168,"drought":0.734},{"year":4,"track":"a","enzyme":0.0016,"drought":0.745},
      {"year":5,"track":"a","enzyme":0.001483,"drought":0.7657},{"year":5,"track":"a","enzyme":0.001503,"drought":0.7691},{"year":5,"track":"a","enzyme":0.001529,"drought":0.7674},{"year":5,"track":"a","enzyme":0.001564,"drought":0.764},{"year":5,"track":"a","enzyme":0.001598,"drought":0.7616},{"year":5,"track":"a","enzyme":0.001633,"drought":0.7582},{"year":5,"track":"a","enzyme":0.001667,"drought":0.7527},{"year":5,"track":"a","enzyme":0.00172,"drought":0.745},{"year":5,"track":"a","enzyme":0.0018,"drought":0.733},{"year":5,"track":"a","enzyme":0.00195,"drought":0.712},{"year":5,"track":"a","enzyme":0.0021,"drought":0.69},{"year":5,"track":"a","enzyme":0.00225,"drought":0.668},{"year":5,"track":"a","enzyme":0.0024,"drought":0.651},{"year":5,"track":"a","enzyme":0.00252,"drought":0.637},{"year":5,"track":"a","enzyme":0.00262,"drought":0.627},{"year":5,"track":"a","enzyme":0.0027,"drought":0.62},{"year":5,"track":"a","enzyme":0.002735,"drought":0.615},{"year":5,"track":"a","enzyme":0.00273,"drought":0.609},{"year":5,"track":"a","enzyme":0.00269,"drought":0.609},{"year":5,"track":"a","enzyme":0.0026,"drought":0.616},{"year":5,"track":"a","enzyme":0.00248,"drought":0.628},{"year":5,"track":"a","enzyme":0.00234,"drought":0.645},{"year":5,"track":"a","enzyme":0.00218,"drought":0.666},{"year":5,"track":"a","enzyme":0.00202,"drought":0.689},{"year":5,"track":"a","enzyme":0.00188,"drought":0.709},{"year":5,"track":"a","enzyme":0.00176,"drought":0.726},{"year":5,"track":"a","enzyme":0.00166,"drought":0.74},{"year":5,"track":"a","enzyme":0.00158,"drought":0.748},
      {"year":6,"track":"a","enzyme":0.001457,"drought":0.7897},{"year":6,"track":"a","enzyme":0.00148,"drought":0.792},{"year":6,"track":"a","enzyme":0.0015,"drought":0.7897},{"year":6,"track":"a","enzyme":0.00153,"drought":0.789},{"year":6,"track":"a","enzyme":0.001598,"drought":0.7877},{"year":6,"track":"a","enzyme":0.00165,"drought":0.7846},{"year":6,"track":"a","enzyme":0.001702,"drought":0.7767},{"year":6,"track":"a","enzyme":0.001736,"drought":0.7691},{"year":6,"track":"a","enzyme":0.001788,"drought":0.7571},{"year":6,"track":"a","enzyme":0.00184,"drought":0.7469},{"year":6,"track":"a","enzyme":0.001892,"drought":0.7349},{"year":6,"track":"a","enzyme":0.001944,"drought":0.7246},{"year":6,"track":"a","enzyme":0.002013,"drought":0.7109},{"year":6,"track":"a","enzyme":0.002082,"drought":0.6971},{"year":6,"track":"a","enzyme":0.002151,"drought":0.6834},{"year":6,"track":"a","enzyme":0.00222,"drought":0.672},{"year":6,"track":"a","enzyme":0.0023,"drought":0.662},{"year":6,"track":"a","enzyme":0.0024,"drought":0.651},{"year":6,"track":"a","enzyme":0.0025,"drought":0.64},{"year":6,"track":"a","enzyme":0.00258,"drought":0.632},{"year":6,"track":"a","enzyme":0.00264,"drought":0.626},{"year":6,"track":"a","enzyme":0.002669,"drought":0.6234},{"year":6,"track":"a","enzyme":0.00266,"drought":0.618},{"year":6,"track":"a","enzyme":0.00262,"drought":0.617},{"year":6,"track":"a","enzyme":0.00255,"drought":0.622},{"year":6,"track":"a","enzyme":0.00245,"drought":0.632},{"year":6,"track":"a","enzyme":0.00232,"drought":0.648},{"year":6,"track":"a","enzyme":0.00218,"drought":0.667},{"year":6,"track":"a","enzyme":0.00204,"drought":0.686},{"year":6,"track":"a","enzyme":0.0019,"drought":0.706},{"year":6,"track":"a","enzyme":0.00178,"drought":0.723},{"year":6,"track":"a","enzyme":0.00168,"drought":0.737},{"year":6,"track":"a","enzyme":0.0016,"drought":0.747},
      {"year":7,"track":"a","enzyme":0.001543,"drought":0.7469},{"year":7,"track":"a","enzyme":0.001555,"drought":0.7513},{"year":7,"track":"a","enzyme":0.001581,"drought":0.7503},{"year":7,"track":"a","enzyme":0.00165,"drought":0.743},{"year":7,"track":"a","enzyme":0.00176,"drought":0.729},{"year":7,"track":"a","enzyme":0.0019,"drought":0.709},{"year":7,"track":"a","enzyme":0.00205,"drought":0.687},{"year":7,"track":"a","enzyme":0.0022,"drought":0.666},{"year":7,"track":"a","enzyme":0.00235,"drought":0.648},{"year":7,"track":"a","enzyme":0.0025,"drought":0.632},{"year":7,"track":"a","enzyme":0.0026,"drought":0.621},{"year":7,"track":"a","enzyme":0.00266,"drought":0.614},{"year":7,"track":"a","enzyme":0.002675,"drought":0.618},{"year":7,"track":"a","enzyme":0.002669,"drought":0.6234},{"year":7,"track":"a","enzyme":0.00266,"drought":0.6286},{"year":7,"track":"a","enzyme":0.002634,"drought":0.6354},{"year":7,"track":"a","enzyme":0.002582,"drought":0.644},{"year":7,"track":"a","enzyme":0.00253,"drought":0.6498},{"year":7,"track":"a","enzyme":0.002462,"drought":0.6543},{"year":7,"track":"a","enzyme":0.002392,"drought":0.6594},{"year":7,"track":"a","enzyme":0.002323,"drought":0.6646},{"year":7,"track":"a","enzyme":0.002272,"drought":0.6697},{"year":7,"track":"a","enzyme":0.002245,"drought":0.672},{"year":7,"track":"a","enzyme":0.002225,"drought":0.676},{"year":7,"track":"a","enzyme":0.002234,"drought":0.6738},
      {"year":8,"track":"a","enzyme":0.001483,"drought":0.764},{"year":8,"track":"a","enzyme":0.001512,"drought":0.7647},{"year":8,"track":"a","enzyme":0.001547,"drought":0.7606},{"year":8,"track":"a","enzyme":0.001581,"drought":0.7554},{"year":8,"track":"a","enzyme":0.00165,"drought":0.748},{"year":8,"track":"a","enzyme":0.00175,"drought":0.736},{"year":8,"track":"a","enzyme":0.0019,"drought":0.716},{"year":8,"track":"a","enzyme":0.00205,"drought":0.694},{"year":8,"track":"a","enzyme":0.0022,"drought":0.672},{"year":8,"track":"a","enzyme":0.00235,"drought":0.653},{"year":8,"track":"a","enzyme":0.0025,"drought":0.637},{"year":8,"track":"a","enzyme":0.00262,"drought":0.625},{"year":8,"track":"a","enzyme":0.00271,"drought":0.615},{"year":8,"track":"a","enzyme":0.00274,"drought":0.607},{"year":8,"track":"a","enzyme":0.00274,"drought":0.6},{"year":8,"track":"a","enzyme":0.00271,"drought":0.598},{"year":8,"track":"a","enzyme":0.00264,"drought":0.604},{"year":8,"track":"a","enzyme":0.00252,"drought":0.616},{"year":8,"track":"a","enzyme":0.00238,"drought":0.633},{"year":8,"track":"a","enzyme":0.00222,"drought":0.655},{"year":8,"track":"a","enzyme":0.00206,"drought":0.678},{"year":8,"track":"a","enzyme":0.00192,"drought":0.7},{"year":8,"track":"a","enzyme":0.0018,"drought":0.718},{"year":8,"track":"a","enzyme":0.0017,"drought":0.733},{"year":8,"track":"a","enzyme":0.00162,"drought":0.744},
      {"year":9,"track":"a","enzyme":0.001503,"drought":0.7777},{"year":9,"track":"a","enzyme":0.00155,"drought":0.775},{"year":9,"track":"a","enzyme":0.001598,"drought":0.7709},{"year":9,"track":"a","enzyme":0.00165,"drought":0.767},{"year":9,"track":"a","enzyme":0.001702,"drought":0.764},{"year":9,"track":"a","enzyme":0.001754,"drought":0.7582},{"year":9,"track":"a","enzyme":0.0018,"drought":0.75},{"year":9,"track":"a","enzyme":0.00187,"drought":0.74},{"year":9,"track":"a","enzyme":0.001944,"drought":0.729},{"year":9,"track":"a","enzyme":0.00202,"drought":0.712},{"year":9,"track":"a","enzyme":0.0021,"drought":0.696},{"year":9,"track":"a","enzyme":0.0022,"drought":0.679},{"year":9,"track":"a","enzyme":0.00232,"drought":0.661},{"year":9,"track":"a","enzyme":0.00245,"drought":0.645},{"year":9,"track":"a","enzyme":0.00258,"drought":0.629},{"year":9,"track":"a","enzyme":0.00268,"drought":0.617},{"year":9,"track":"a","enzyme":0.00274,"drought":0.61},{"year":9,"track":"a","enzyme":0.002755,"drought":0.602},{"year":9,"track":"a","enzyme":0.002745,"drought":0.597},{"year":9,"track":"a","enzyme":0.0027,"drought":0.597},{"year":9,"track":"a","enzyme":0.0026,"drought":0.605},{"year":9,"track":"a","enzyme":0.00248,"drought":0.618},{"year":9,"track":"a","enzyme":0.00234,"drought":0.636},{"year":9,"track":"a","enzyme":0.00218,"drought":0.658},{"year":9,"track":"a","enzyme":0.00202,"drought":0.681},{"year":9,"track":"a","enzyme":0.00188,"drought":0.704},{"year":9,"track":"a","enzyme":0.00176,"drought":0.722},{"year":9,"track":"a","enzyme":0.00166,"drought":0.736},{"year":9,"track":"a","enzyme":0.00158,"drought":0.746},
      {"year":10,"track":"a","enzyme":0.00158,"drought":0.748},{"year":10,"track":"a","enzyme":0.0017,"drought":0.735},{"year":10,"track":"a","enzyme":0.00185,"drought":0.716},{"year":10,"track":"a","enzyme":0.002,"drought":0.695},{"year":10,"track":"a","enzyme":0.00215,"drought":0.673},{"year":10,"track":"a","enzyme":0.0023,"drought":0.652},{"year":10,"track":"a","enzyme":0.00245,"drought":0.634},{"year":10,"track":"a","enzyme":0.00258,"drought":0.619},{"year":10,"track":"a","enzyme":0.00268,"drought":0.606},{"year":10,"track":"a","enzyme":0.00274,"drought":0.597},{"year":10,"track":"a","enzyme":0.002745,"drought":0.59},{"year":10,"track":"a","enzyme":0.00272,"drought":0.589},{"year":10,"track":"a","enzyme":0.00264,"drought":0.595},{"year":10,"track":"a","enzyme":0.00252,"drought":0.607},{"year":10,"track":"a","enzyme":0.00238,"drought":0.624},{"year":10,"track":"a","enzyme":0.00222,"drought":0.647},{"year":10,"track":"a","enzyme":0.00206,"drought":0.672},{"year":10,"track":"a","enzyme":0.00192,"drought":0.694},{"year":10,"track":"a","enzyme":0.0018,"drought":0.713},{"year":10,"track":"a","enzyme":0.0017,"drought":0.728},{"year":10,"track":"a","enzyme":0.00162,"drought":0.74},
      {"year":11,"track":"a","enzyme":0.00159,"drought":0.744},{"year":11,"track":"a","enzyme":0.0017,"drought":0.733},{"year":11,"track":"a","enzyme":0.00185,"drought":0.713},{"year":11,"track":"a","enzyme":0.002,"drought":0.692},{"year":11,"track":"a","enzyme":0.00215,"drought":0.67},{"year":11,"track":"a","enzyme":0.0023,"drought":0.65},{"year":11,"track":"a","enzyme":0.00245,"drought":0.632},{"year":11,"track":"a","enzyme":0.0026,"drought":0.614},{"year":11,"track":"a","enzyme":0.00272,"drought":0.598},{"year":11,"track":"a","enzyme":0.0028,"drought":0.586},{"year":11,"track":"a","enzyme":0.00285,"drought":0.576},{"year":11,"track":"a","enzyme":0.00286,"drought":0.572},{"year":11,"track":"a","enzyme":0.00284,"drought":0.571},{"year":11,"track":"a","enzyme":0.00278,"drought":0.577},{"year":11,"track":"a","enzyme":0.00268,"drought":0.589},{"year":11,"track":"a","enzyme":0.00255,"drought":0.604},{"year":11,"track":"a","enzyme":0.0024,"drought":0.622},{"year":11,"track":"a","enzyme":0.00225,"drought":0.643},{"year":11,"track":"a","enzyme":0.0021,"drought":0.666},{"year":11,"track":"a","enzyme":0.00195,"drought":0.69},{"year":11,"track":"a","enzyme":0.00182,"drought":0.711},{"year":11,"track":"a","enzyme":0.00171,"drought":0.727},{"year":11,"track":"a","enzyme":0.00162,"drought":0.739},
      {"year":12,"track":"a","enzyme":0.00159,"drought":0.7434},{"year":12,"track":"a","enzyme":0.00165,"drought":0.7451},{"year":12,"track":"a","enzyme":0.001702,"drought":0.74},{"year":12,"track":"a","enzyme":0.001806,"drought":0.728},{"year":12,"track":"a","enzyme":0.001875,"drought":0.7229},{"year":12,"track":"a","enzyme":0.001927,"drought":0.7205},{"year":12,"track":"a","enzyme":0.001944,"drought":0.7188},{"year":12,"track":"a","enzyme":0.001978,"drought":0.7109},{"year":12,"track":"a","enzyme":0.00205,"drought":0.697},{"year":12,"track":"a","enzyme":0.00215,"drought":0.678},{"year":12,"track":"a","enzyme":0.0023,"drought":0.655},{"year":12,"track":"a","enzyme":0.00245,"drought":0.636},{"year":12,"track":"a","enzyme":0.0026,"drought":0.617},{"year":12,"track":"a","enzyme":0.0027,"drought":0.603},{"year":12,"track":"a","enzyme":0.00275,"drought":0.594},{"year":12,"track":"a","enzyme":0.00282,"drought":0.58},{"year":12,"track":"a","enzyme":0.002855,"drought":0.572},{"year":12,"track":"a","enzyme":0.00285,"drought":0.569},{"year":12,"track":"a","enzyme":0.002807,"drought":0.578},{"year":12,"track":"a","enzyme":0.002738,"drought":0.587},{"year":12,"track":"a","enzyme":0.002634,"drought":0.6},{"year":12,"track":"a","enzyme":0.002462,"drought":0.62},{"year":12,"track":"a","enzyme":0.002289,"drought":0.64},{"year":12,"track":"a","enzyme":0.002116,"drought":0.662},{"year":12,"track":"a","enzyme":0.001944,"drought":0.69},{"year":12,"track":"a","enzyme":0.001771,"drought":0.719},{"year":12,"track":"a","enzyme":0.00165,"drought":0.737},{"year":12,"track":"a","enzyme":0.001598,"drought":0.742}
    ]
  },
  "hconcat": [
    {
      "width": 338, "height": 330,
      "title": "A) End of wet season",
      "encoding": {
        "x": {"field": "enzyme", "type": "quantitative", "scale": {"domain": [-0.00032, 0.00832], "nice": false, "zero": false}, "axis": {"values": [0, 0.002, 0.004, 0.006, 0.008], "format": ".3f", "title": null}},
        "y": {"field": "drought", "type": "quantitative", "scale": {"domain": [-0.04, 1.04], "nice": false, "zero": false}, "axis": {"values": [0, 0.2, 0.4, 0.6, 0.8, 1.0], "format": ".1f", "title": "Drought tolerance"}}
      },
      "layer": [
        {"data": {"name": "background"}, "mark": {"type": "point", "shape": "circle", "filled": true, "color": "black", "opacity": 1, "size": 2}},
        {"data": {"name": "species"}, "transform": [{"filter": "datum.season === 'wet'"}],
         "mark": {"type": "point", "shape": "circle", "filled": true, "color": "black", "opacity": 1},
         "encoding": {"size": {"field": "abundance", "type": "quantitative", "scale": {"domain": [0, 100], "range": [0, 130]}, "legend": null}}}
      ]
    },
    {
      "width": 338, "height": 330,
      "title": "B) End of dry season",
      "encoding": {
        "x": {"field": "enzyme", "type": "quantitative", "scale": {"domain": [-0.00032, 0.00832], "nice": false, "zero": false}, "axis": {"values": [0, 0.002, 0.004, 0.006, 0.008], "format": ".3f", "title": "Enzyme investment"}},
        "y": {"field": "drought", "type": "quantitative", "scale": {"domain": [-0.04, 1.04], "nice": false, "zero": false}, "axis": {"values": [0, 0.2, 0.4, 0.6, 0.8, 1.0], "format": ".1f", "title": null}}
      },
      "layer": [
        {"data": {"name": "background"}, "mark": {"type": "point", "shape": "circle", "filled": true, "color": "black", "opacity": 1, "size": 2}},
        {"data": {"name": "species"}, "transform": [{"filter": "datum.season === 'dry'"}],
         "mark": {"type": "point", "shape": "circle", "filled": true, "color": "black", "opacity": 1},
         "encoding": {"size": {"field": "abundance", "type": "quantitative", "scale": {"domain": [0, 100], "range": [0, 130]}, "legend": null}}}
      ]
    },
    {
      "width": 338, "height": 330,
      "title": "C) 12–year simulation",
      "data": {"name": "trajectory"},
      "encoding": {
        "x": {"field": "enzyme", "type": "quantitative", "scale": {"domain": [0.001392, 0.00314], "nice": false, "zero": false}, "axis": {"values": [0.0015, 0.002, 0.0025, 0.003], "format": ".4f", "title": null}},
        "y": {"field": "drought", "type": "quantitative", "scale": {"domain": [0.4673, 0.8068], "nice": false, "zero": false}, "axis": {"values": [0.5, 0.55, 0.6, 0.65, 0.7, 0.75, 0.8], "format": ".2f", "title": null}},
        "detail": {"field": "track", "type": "nominal"},
        "order": {"value": null}
      },
      "layer": [
        {"transform": [{"filter": "datum.year === 1"}], "mark": {"type": "line", "strokeWidth": 1, "color": "#FF00FF"}},
        {"transform": [{"filter": "datum.year > 1"}], "mark": {"type": "line", "strokeWidth": 1.8},
         "encoding": {
           "color": {"field": "year", "type": "quantitative",
             "scale": {"type": "linear", "domain": [1, 12], "range": ["#FF00FF", "#FF20D2", "#FF3AA8", "#FF5A7C", "#FF7A4C", "#FF9A1E", "#E6AA22", "#BABB48", "#8CC972", "#5CDCA0", "#2EEECC", "#00FFFF"]},
             "legend": {"orient": "none", "legendX": 1026, "legendY": 46, "direction": "horizontal", "gradientLength": 98, "gradientThickness": 10, "gradientStrokeWidth": 0, "title": null, "padding": 0, "values": [1, 12], "labelExpr": "'Year ' + datum.value", "labelFont": "Liberation Sans", "labelFontSize": 12, "labelColor": "black", "labelOffset": -26,
               "encoding": {"labels": {"align": {"value": "center"}}}}}
         }}
      ]
    }
  ]
}
